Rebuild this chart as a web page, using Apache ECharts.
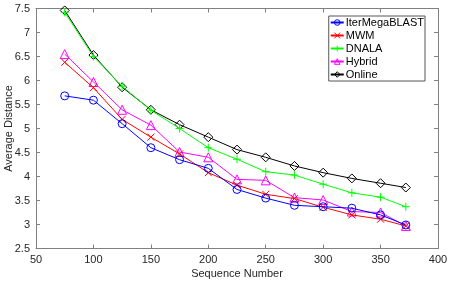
<!DOCTYPE html>
<html><head><meta charset="utf-8">
<script src="https://cdn.jsdelivr.net/npm/echarts@6/dist/echarts.min.js"></script>
<style>html,body{margin:0;padding:0;background:#fff}#c{width:449px;height:281px}</style>
</head><body><div id="c"></div>
<script>
const xs = [75,100,125,150,175,200,225,250,275,300,325,350,372];
const iterMegaBLAST = [5.68,5.59,5.10,4.60,4.35,4.17,3.73,3.55,3.40,3.37,3.34,3.20,2.99];
const mwm = [6.38,5.85,5.19,4.82,4.47,4.08,3.82,3.63,3.54,3.36,3.20,3.11,2.97];
const dnala = [7.42,6.50,5.88,5.38,5.00,4.60,4.36,4.10,4.03,3.84,3.66,3.57,3.37];
const hybrid = [6.55,5.97,5.39,5.07,4.51,4.40,3.94,3.92,3.56,3.51,3.27,3.25,2.97];
const online = [7.46,6.53,5.86,5.39,5.08,4.82,4.56,4.40,4.22,4.08,3.96,3.86,3.77];
const names = ['IterMegaBLAST','MWM','DNALA','Hybrid','Online'];
const colors = ['#0000ff','#ff0000','#00ff00','#ff00ff','#000000'];
const symbols = ['circle','path://M0,0L10,10M10,0L0,10','path://M5,0L5,10M0,5L10,5','triangle','diamond'];
const sizes = [8,7,8,9,9];
const datas = [iterMegaBLAST,mwm,dnala,hybrid,online];

const font = 'Liberation Sans, Arial, sans-serif';
const axisCol = '#808080';
const chart = echarts.init(document.getElementById('c'), null, {renderer:'canvas'});
const series = names.map((n,i)=>({
  name:n, type:'line',
  data: xs.map((x,j)=>[x,datas[i][j]]),
  symbol: symbols[i], symbolSize: sizes[i], showAllSymbol:true,
  lineStyle:{color:colors[i], width:1},
  itemStyle:{color:'none', borderColor:colors[i], borderWidth:1},
  emphasis:{disabled:true}, animation:false, z: 5-i
}));
chart.setOption({
  animation:false,
  grid:{left:36,right:11,top:8.5,bottom:32.5,containLabel:false,outerBoundsMode:'none'},
  legend:{
    data:names.map((n,i)=>({name:n, itemStyle:{color:'none',borderColor:colors[i],borderWidth:1}})),
    orient:'vertical', right:24, top:16,
    itemWidth:13, itemHeight:7, itemGap:2,
    backgroundColor:'#fff', borderColor:'#555', borderWidth:1,
    padding:[1,1,1,1],
    textStyle:{fontFamily:font, fontSize:11, color:'#000', lineHeight:11, padding:[0,0,0,-3]}
  },
  xAxis:[{
    type:'value', min:50, max:400, interval:50, position:'bottom',
    name:'Sequence Number', nameLocation:'middle', nameGap:20, nameMoveOverlap:false,
    nameTextStyle:{fontFamily:font,fontSize:11,color:'#262626'},
    axisLine:{show:true,lineStyle:{color:axisCol,width:1}},
    axisTick:{inside:true,length:4,lineStyle:{color:axisCol}},
    axisLabel:{fontFamily:font,fontSize:11,color:'#262626',margin:6},
    splitLine:{show:false}
  },{
    type:'value', min:50, max:400, interval:50, position:'top',
    axisLine:{show:true,lineStyle:{color:axisCol,width:1}},
    axisTick:{inside:true,length:4,lineStyle:{color:axisCol}},
    axisLabel:{show:false}, splitLine:{show:false}
  }],
  yAxis:[{
    type:'value', min:2.5, max:7.5, interval:0.5, position:'left',
    name:'Average Distance', nameLocation:'middle', nameGap:22, nameMoveOverlap:false,
    nameTextStyle:{fontFamily:font,fontSize:11,color:'#262626'},
    axisLine:{show:true,lineStyle:{color:axisCol,width:1}},
    axisTick:{inside:true,length:4,lineStyle:{color:axisCol}},
    axisLabel:{fontFamily:font,fontSize:11,color:'#262626',margin:6},
    splitLine:{show:false}
  },{
    type:'value', min:2.5, max:7.5, interval:0.5, position:'right',
    axisLine:{show:true,lineStyle:{color:axisCol,width:1}},
    axisTick:{inside:true,length:4,lineStyle:{color:axisCol}},
    axisLabel:{show:false}, splitLine:{show:false}
  }],
  series: series
});
</script></body></html>
